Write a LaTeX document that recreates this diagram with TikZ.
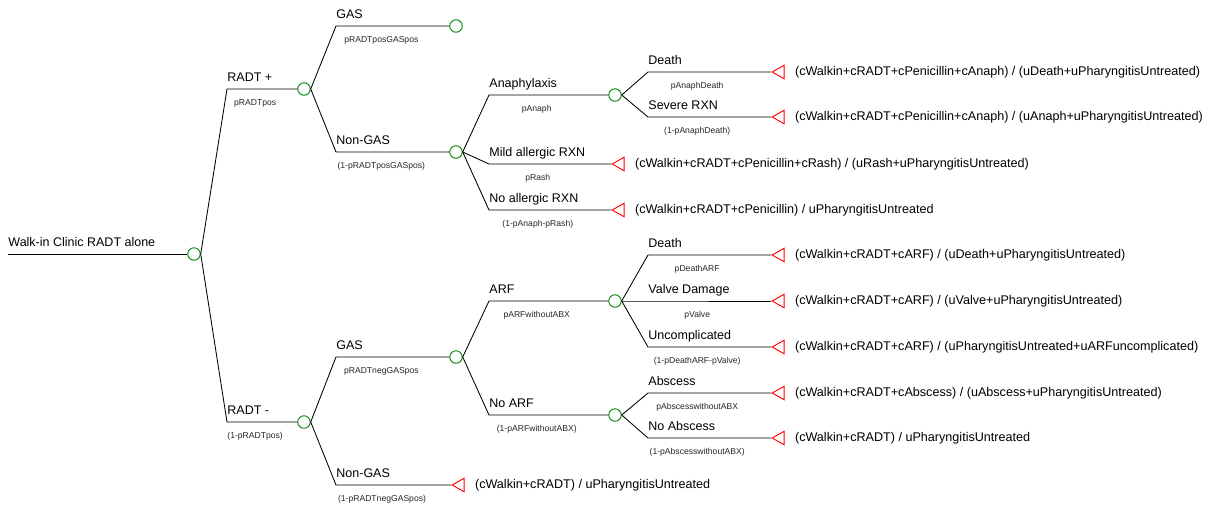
\documentclass[tikz,border=0pt]{standalone}
\usepackage{fontspec}
\setmainfont{Liberation Sans}
\usepackage{tikz}
\usetikzlibrary{positioning}
\usetikzlibrary{shapes.geometric}

\tikzset{
  chance/.style={circle, draw=green!50!black, line width=0.9pt, minimum size=12.5pt, inner sep=0pt},
  term/.style={isosceles triangle, isosceles triangle stretches, shape border rotate=180, draw=red, line width=0.9pt, minimum width=13.6pt, minimum height=12pt, inner sep=0pt, anchor=apex},
  lab/.style={anchor=base west, yshift=8pt, inner sep=0pt, font=\fontsize{12.5}{14}\selectfont},
  prob/.style={anchor=base, yshift=-16pt, inner sep=0pt, font=\fontsize{8.6}{10}\selectfont, text=black!85},
  pay/.style={anchor=west, inner sep=0pt, font=\fontsize{12.6}{14}\selectfont},
}

\begin{document}
\begin{tikzpicture}[x=1pt,y=-1pt,line width=0.85pt]
\useasboundingbox (0,0) rectangle (1209,507);

% root
\coordinate (start) at (8,254);
\node[chance] (c0) at (194,254) {};
\draw (start) -- (c0.west);
\node[lab] at (start) {Walk-in Clinic RADT alone};

% RADT + / RADT -
\coordinate (b1) at (227,89);
\coordinate (b2) at (227,422);
\node[chance] (c1) at (304,89) {};
\node[chance] (c2) at (304,422) {};
\draw (c0.east) -- (b1) -- node[prob,pos=0.4] {pRADTpos} (c1.west);
\draw (c0.east) -- (b2) -- node[prob,pos=0.4] {(1-pRADTpos)} (c2.west);
\node[lab] at (b1) {RADT +};
\node[lab] at (b2) {RADT -};

% GAS / Non-GAS after RADT +
\coordinate (b3) at (336,26);
\coordinate (b4) at (336,152);
\node[chance] (c3) at (456,26) {};
\node[chance] (c4) at (456,152) {};
\draw (c1.east) -- (b3) -- node[prob,pos=0.4] {pRADTposGASpos} (c3.west);
\draw (c1.east) -- (b4) -- node[prob,pos=0.4] {(1-pRADTposGASpos)} (c4.west);
\node[lab] at (b3) {GAS};
\node[lab] at (b4) {Non-GAS};

% allergic reactions
\coordinate (b5) at (489,95);
\coordinate (b6) at (489,164);
\coordinate (b7) at (489,210);
\node[chance] (c6) at (615,95) {};
\node[term] (t2) at (611,164) {};
\node[term] (t3) at (611,210) {};
\draw (c4.east) -- (b5) -- node[prob,pos=0.4] {pAnaph} (c6.west);
\draw (c4.east) -- (b6) -- node[prob,pos=0.4] {pRash} (t2.apex);
\draw (c4.east) -- (b7) -- node[prob,pos=0.4] {(1-pAnaph-pRash)} (t3.apex);
\node[lab] at (b5) {Anaphylaxis};
\node[lab] at (b6) {Mild allergic RXN};
\node[lab] at (b7) {No allergic RXN};
\node[pay, right=10pt of t2] {(cWalkin+cRADT+cPenicillin+cRash) / (uRash+uPharyngitisUntreated)};
\node[pay, right=10pt of t3] {(cWalkin+cRADT+cPenicillin) / uPharyngitisUntreated};

% anaphylaxis outcomes
\coordinate (b8) at (648,72);
\coordinate (b9) at (648,117);
\node[term] (t4) at (771,72) {};
\node[term] (t5) at (771,117) {};
\draw (c6.east) -- (b8) -- node[prob,pos=0.4] {pAnaphDeath} (t4.apex);
\draw (c6.east) -- (b9) -- node[prob,pos=0.4] {(1-pAnaphDeath)} (t5.apex);
\node[lab] at (b8) {Death};
\node[lab] at (b9) {Severe RXN};
\node[pay, right=10pt of t4] {(cWalkin+cRADT+cPenicillin+cAnaph) / (uDeath+uPharyngitisUntreated)};
\node[pay, right=10pt of t5] {(cWalkin+cRADT+cPenicillin+cAnaph) / (uAnaph+uPharyngitisUntreated)};

% GAS / Non-GAS after RADT -
\coordinate (b10) at (336,357);
\coordinate (b11) at (336,485);
\node[chance] (c5) at (456,357) {};
\node[term] (t1) at (451,485) {};
\draw (c2.east) -- (b10) -- node[prob,pos=0.4] {pRADTnegGASpos} (c5.west);
\draw (c2.east) -- (b11) -- node[prob,pos=0.4] {(1-pRADTnegGASpos)} (t1.apex);
\node[lab] at (b10) {GAS};
\node[lab] at (b11) {Non-GAS};
\node[pay, right=10pt of t1] {(cWalkin+cRADT) / uPharyngitisUntreated};

% ARF / No ARF
\coordinate (b12) at (489,301);
\coordinate (b13) at (489,415);
\node[chance] (c7) at (615,301) {};
\node[chance] (c8) at (615,415) {};
\draw (c5.east) -- (b12) -- node[prob,pos=0.4] {pARFwithoutABX} (c7.west);
\draw (c5.east) -- (b13) -- node[prob,pos=0.4] {(1-pARFwithoutABX)} (c8.west);
\node[lab] at (b12) {ARF};
\node[lab] at (b13) {No ARF};

% ARF outcomes
\coordinate (b14) at (648,255);
\coordinate (b15) at (648,301);
\coordinate (b16) at (648,347);
\node[term] (t6) at (771,255) {};
\node[term] (t7) at (771,301) {};
\node[term] (t8) at (771,347) {};
\draw (c7.east) -- (b14) -- node[prob,pos=0.4] {pDeathARF} (t6.apex);
\draw (c7.east) -- (b15) -- node[prob,pos=0.4] {pValve} (t7.apex);
\draw (c7.east) -- (b16) -- node[prob,pos=0.4] {(1-pDeathARF-pValve)} (t8.apex);
\node[lab] at (b14) {Death};
\node[lab] at (b15) {Valve Damage};
\node[lab] at (b16) {Uncomplicated};
\node[pay, right=10pt of t6] {(cWalkin+cRADT+cARF) / (uDeath+uPharyngitisUntreated)};
\node[pay, right=10pt of t7] {(cWalkin+cRADT+cARF) / (uValve+uPharyngitisUntreated)};
\node[pay, right=10pt of t8] {(cWalkin+cRADT+cARF) / (uPharyngitisUntreated+uARFuncomplicated)};

% abscess outcomes
\coordinate (b17) at (648,393);
\coordinate (b18) at (648,438);
\node[term] (t9) at (771,393) {};
\node[term] (t10) at (771,438) {};
\draw (c8.east) -- (b17) -- node[prob,pos=0.4] {pAbscesswithoutABX} (t9.apex);
\draw (c8.east) -- (b18) -- node[prob,pos=0.4] {(1-pAbscesswithoutABX)} (t10.apex);
\node[lab] at (b17) {Abscess};
\node[lab] at (b18) {No Abscess};
\node[pay, right=10pt of t9] {(cWalkin+cRADT+cAbscess) / (uAbscess+uPharyngitisUntreated)};
\node[pay, right=10pt of t10] {(cWalkin+cRADT) / uPharyngitisUntreated};
\end{tikzpicture}
\end{document}
